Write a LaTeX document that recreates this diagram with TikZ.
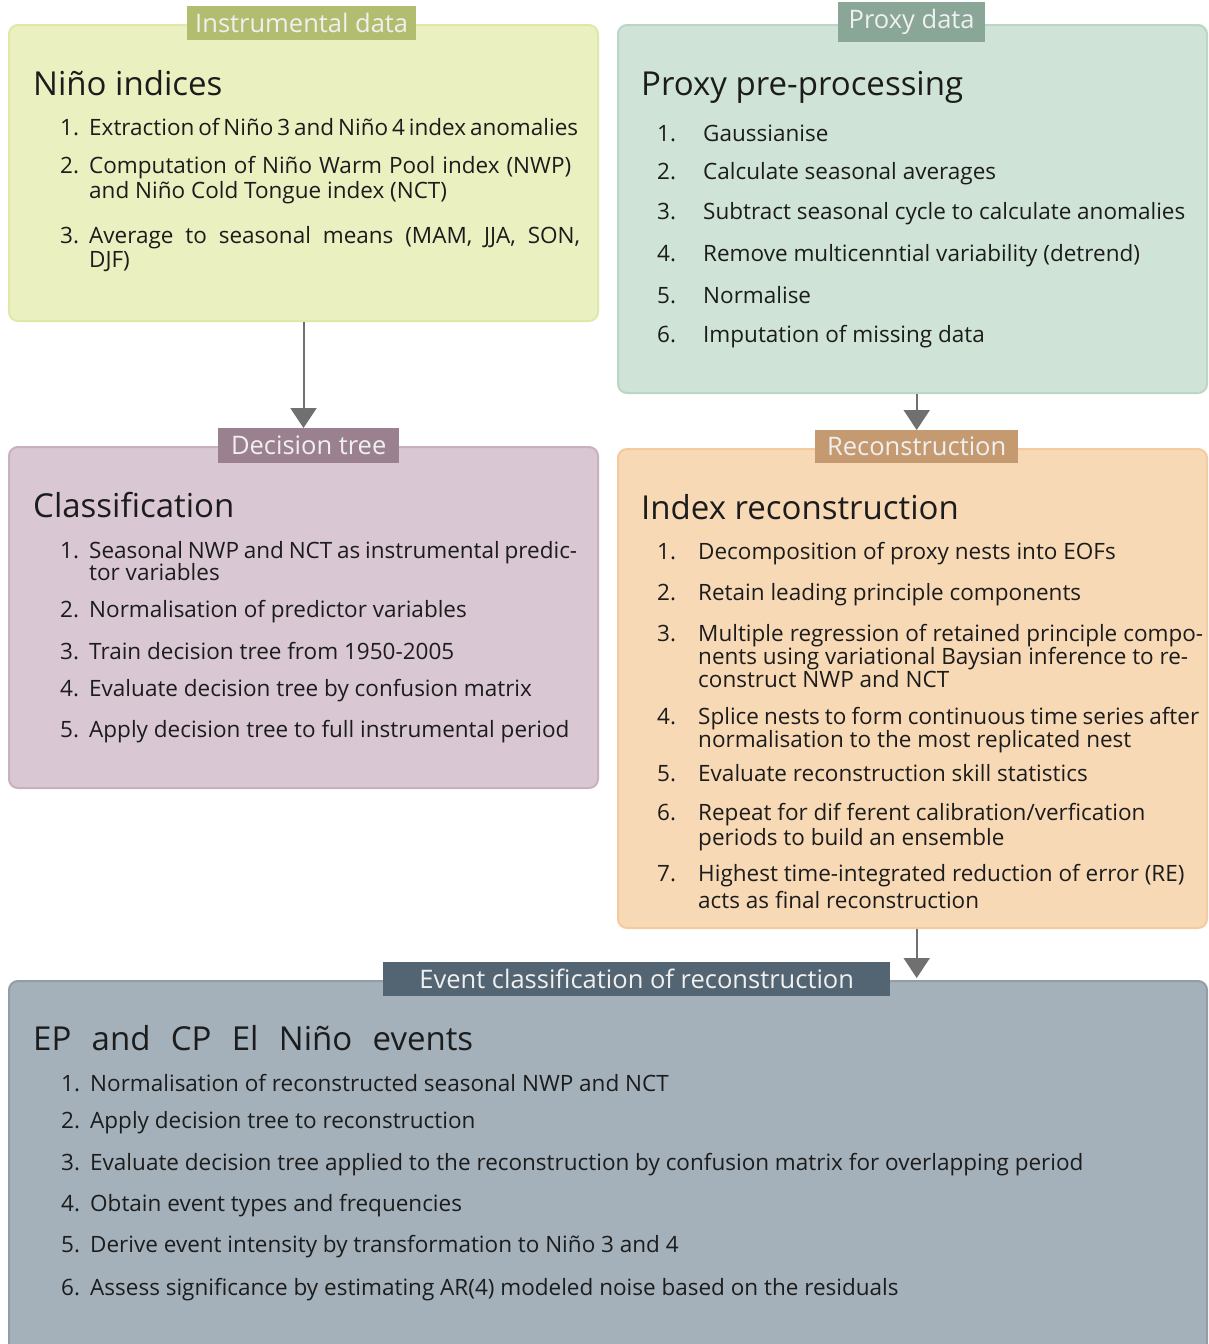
\documentclass[tikz,border=0pt]{standalone}
\usepackage{fontspec}
\setmainfont{Open Sans}
\usetikzlibrary{arrows.meta}
\definecolor{instfill}{HTML}{EBF0C0}
\definecolor{instline}{HTML}{DFE8A8}
\definecolor{insttag}{HTML}{B3BD70}
\definecolor{proxfill}{HTML}{CFE3D6}
\definecolor{proxline}{HTML}{BAD6C6}
\definecolor{proxtag}{HTML}{89A696}
\definecolor{dtfill}{HTML}{D9C7D3}
\definecolor{dtline}{HTML}{C9B0C0}
\definecolor{dttag}{HTML}{9B8190}
\definecolor{recfill}{HTML}{F8D9B6}
\definecolor{recline}{HTML}{F5CA9E}
\definecolor{rectag}{HTML}{C59A70}
\definecolor{evfill}{HTML}{A4B1BA}
\definecolor{evline}{HTML}{8E9FAA}
\definecolor{evtag}{HTML}{536572}
\definecolor{arrgray}{HTML}{707070}
\definecolor{txt}{HTML}{1C1C1C}
\tikzset{
  panel/.style={draw=#1, line width=2pt, rounded corners=9pt, anchor=north west, inner sep=0pt},
  tag/.style={fill=#1, text=white!94!black, inner sep=0pt, anchor=north west,
    font=\fontsize{25.5}{28}\selectfont},
  hd/.style={anchor=base west, inner sep=0pt, text=txt, font=\fontsize{33}{36}\selectfont},
  itm/.style={anchor=base west, inner sep=0pt, text=txt, font=\fontsize{22.5}{26}\selectfont}
,
  arr/.style={draw=arrgray, line width=2pt, -{Triangle[length=20pt,width=26pt]}}
}
\begin{document}
\begin{tikzpicture}[x=1pt,y=-1pt]
\clip (0,0) rectangle (1208,1344);
\fill[white] (0,0) rectangle (1208,1344);
% panels
\node[panel=instline, fill=instfill, minimum width=589pt, minimum height=296pt] (inst) at (8,24) {};
\node[panel=proxline, fill=proxfill, minimum width=589pt, minimum height=368pt] (prox) at (617,24) {};
\node[panel=dtline, fill=dtfill, minimum width=589pt, minimum height=341pt] (dt) at (8,446) {};
\node[panel=recline, fill=recfill, minimum width=589pt, minimum height=479pt] (rec) at (617,448) {};
\node[panel=evline, fill=evfill, minimum width=1198pt, minimum height=380pt] (ev) at (8,980) {};
% tags
\node[tag=insttag, minimum width=229pt, minimum height=34pt] (itag) at (187,6) {Instrumental data};
\node[tag=proxtag, minimum width=147pt, minimum height=40pt] (ptag) at (838,2) {Proxy data};
\node[tag=dttag, minimum width=181pt, minimum height=35pt] (dtag) at (218,428) {Decision tree};
\node[tag=rectag, minimum width=203pt, minimum height=33pt] (rtag) at (815,430) {Reconstruction};
\node[tag=evtag, minimum width=507pt, minimum height=34pt] (etag) at (383,962) {Event classification of reconstruction};
% arrows
\draw[arr] (inst.south) -- (inst.south |- dtag.north);
\draw[arr] (rtag.north |- prox.south) -- (rtag.north);
\draw[arr] (rtag.north |- rec.south) -- ([yshift=2pt]rtag.north |- ev.north);
% box 1
\node[hd] (h1) at (33,95) {Niño indices};
\node[itm] (a1n) at (60,135) {1.};
\node[itm] (a1) at (89,135) {\makebox[485pt][s]{Extraction of Niño 3 and Niño 4 index anomalies}};
\node[itm] (a2n) at (60,173) {2.};
\node[itm] (a2) at (89,173) {\makebox[482pt][s]{Computation of Niño Warm Pool index (NWP)}};
\node[itm] (a2b) at (89,198) {and Niño Cold Tongue index (NCT)};
\node[itm] (a3n) at (60,243) {3.};
\node[itm] (a3) at (89,243) {\makebox[491pt][s]{Average to seasonal means (MAM, JJA, SON,}};
\node[itm] (a3b) at (89,267) {DJF)};
% box 2
\node[hd] (h2) at (641,95) {Proxy pre-processing};
\node[itm] (b1n) at (657,141) {1.};
\node[itm] (b1) at (703,141) {Gaussianise};
\node[itm] (b2n) at (657,179) {2.};
\node[itm] (b2) at (703,179) {Calculate seasonal averages};
\node[itm] (b3n) at (657,219) {3.};
\node[itm] (b3) at (703,219) {Subtract seasonal cycle to calculate anomalies};
\node[itm] (b4n) at (657,261) {4.};
\node[itm] (b4) at (703,261) {Remove multicenntial variability (detrend)};
\node[itm] (b5n) at (657,303) {5.};
\node[itm] (b5) at (703,303) {Normalise};
\node[itm] (b6n) at (657,342) {6.};
\node[itm] (b6) at (703,342) {Imputation of missing data};
% box 3
\node[hd] (h3) at (33,517) {Classification};
\node[itm] (c1n) at (60,558) {1.};
\node[itm] (c1) at (89,558) {\makebox[488pt][s]{Seasonal NWP and NCT as instrumental predic-}};
\node[itm] (c1b) at (89,580) {tor variables};
\node[itm] (c2n) at (60,617) {2.};
\node[itm] (c2) at (89,617) {Normalisation of predictor variables};
\node[itm] (c3n) at (60,659) {3.};
\node[itm] (c3) at (89,659) {Train decision tree from 1950-2005};
\node[itm] (c4n) at (60,696) {4.};
\node[itm] (c4) at (89,696) {Evaluate decision tree by confusion matrix};
\node[itm] (c5n) at (60,737) {5.};
\node[itm] (c5) at (89,737) {Apply decision tree to full instrumental period};
% box 4
\node[hd] (h4) at (641,519) {Index reconstruction};
\node[itm] (d1n) at (657,559) {1.};
\node[itm] (d1) at (698,559) {Decomposition of proxy nests into EOFs};
\node[itm] (d2n) at (657,600) {2.};
\node[itm] (d2) at (698,600) {Retain leading principle components};
\node[itm] (d3n) at (657,641) {3.};
\node[itm] (d3) at (698,641) {\makebox[505pt][s]{Multiple regression of retained principle compo-}};
\node[itm] (d3b) at (698,664) {\makebox[490pt][s]{nents using variational Baysian inference to re-}};
\node[itm] (d3c) at (698,687) {construct NWP and NCT};
\node[itm] (d4n) at (657,724) {4.};
\node[itm] (d4) at (698,724) {\makebox[501pt][s]{Splice nests to form continuous time series after}};
\node[itm] (d4b) at (698,747) {normalisation to the most replicated nest};
\node[itm] (d5n) at (657,781) {5.};
\node[itm] (d5) at (698,781) {Evaluate reconstruction skill statistics};
\node[itm] (d6n) at (657,820) {6.};
\node[itm] (d6) at (698,820) {Repeat for dif ferent calibration/verfication};
\node[itm] (d6b) at (698,845) {periods to build an ensemble};
\node[itm] (d7n) at (657,881) {7.};
\node[itm] (d7) at (698,881) {Highest time-integrated reduction of error (RE)};
\node[itm] (d7b) at (698,908) {acts as final reconstruction};
% box 5
\node[hd] (h5) at (33,1050) {\makebox[440pt][s]{EP and CP El Niño events}};
\node[itm] (e1n) at (61,1091) {1.};
\node[itm] (e1) at (90,1091) {Normalisation of reconstructed seasonal NWP and NCT};
\node[itm] (e2n) at (61,1128) {2.};
\node[itm] (e2) at (90,1128) {Apply decision tree to reconstruction};
\node[itm] (e3n) at (61,1170) {3.};
\node[itm] (e3) at (90,1170) {Evaluate decision tree applied to the reconstruction by confusion matrix for overlapping period};
\node[itm] (e4n) at (61,1211) {4.};
\node[itm] (e4) at (90,1211) {Obtain event types and frequencies};
\node[itm] (e5n) at (61,1252) {5.};
\node[itm] (e5) at (90,1252) {Derive event intensity by transformation to Niño 3 and 4};
\node[itm] (e6n) at (61,1295) {6.};
\node[itm] (e6) at (90,1295) {Assess significance by estimating AR(4) modeled noise based on the residuals};
\end{tikzpicture}
\end{document}
